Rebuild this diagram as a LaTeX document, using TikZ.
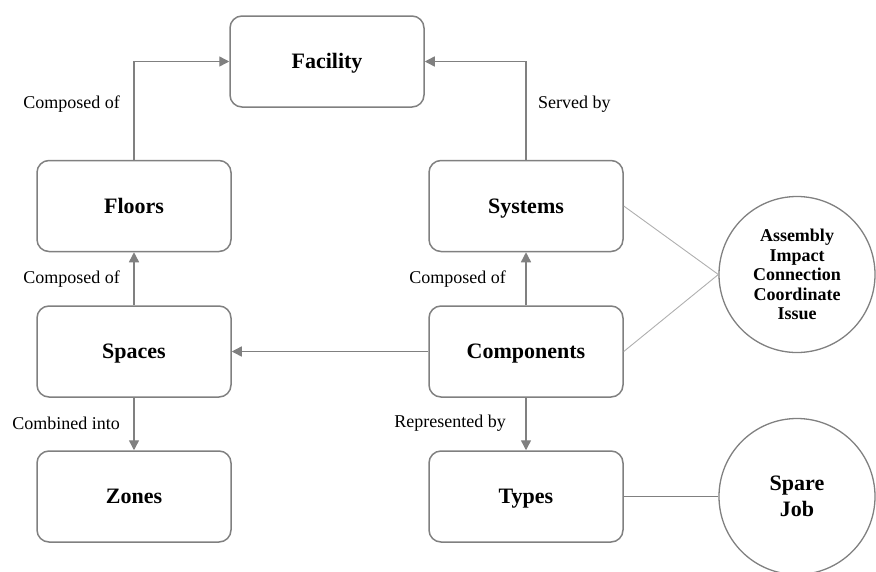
\documentclass[tikz,border=0pt]{standalone}
\usepackage{fontspec}
\setmainfont{Liberation Serif}
\usetikzlibrary{arrows.meta}
\definecolor{edgegray}{RGB}{128,128,128}
\definecolor{lightgray2}{RGB}{175,175,175}
\tikzset{
  box/.style={draw=edgegray, line width=1.5pt, rounded corners=12pt, minimum width=194pt, minimum height=91pt, inner sep=0pt, text height=14.5pt, text depth=0pt, font=\fontsize{22}{26}\selectfont\bfseries},
  circ/.style={draw=edgegray, line width=1.3pt, circle, minimum size=156pt, inner sep=0pt, align=center},
  lbl/.style={inner sep=0pt, font=\fontsize{18}{20}\selectfont},
  arr/.style={draw=edgegray, line width=1.4pt, -{Triangle[length=10pt,width=10pt]}},
  thin/.style={draw=lightgray2, line width=0.9pt},
  mid/.style={draw=edgegray, line width=1.2pt}
}
\begin{document}
\begin{tikzpicture}[x=1pt,y=-1pt]
\useasboundingbox (0,0) rectangle (876,571);
\clip (0,0) rectangle (876,571);
\node[box] (fac) at (327,61.5) {Facility};
\node[box] (flo) at (134,206) {Floors};
\node[box] (spa) at (134,351.5) {Spaces};
\node[box] (zon) at (134,496.5) {Zones};
\node[box] (sys) at (526,206) {Systems};
\node[box] (com) at (526,351.5) {Components};
\node[box] (typ) at (526,496.5) {Types};
\node[circ, font=\fontsize{18}{19.5}\selectfont\bfseries] (c1) at (797,274.5) {Assembly\\Impact\\Connection\\Coordinate\\Issue};
\node[circ, font=\fontsize{22}{26}\selectfont\bfseries] (c2) at (797,496.5) {Spare\\Job};

\draw[arr] (flo.north) |- (fac.west);
\draw[arr] (sys.north) |- (fac.east);
\draw[arr] (spa.north) -- (flo.south);
\draw[arr] (spa.south) -- (zon.north);
\draw[arr] (com.west) -- (spa.east);
\draw[arr] (com.north) -- (sys.south);
\draw[arr] (com.south) -- (typ.north);
\draw[thin] (sys.east) -- (c1.west);
\draw[thin] (com.east) -- (c1.west);
\draw[mid] (typ.east) -- (c2.west);

\node[lbl, anchor=east] (l1) at (120,104) {Composed of};
\node[lbl, anchor=east] (l2) at (120,279) {Composed of};
\node[lbl, anchor=east] (l3) at (120,423) {Combined into};
\node[lbl, anchor=west] (l4) at (538,104) {Served by};
\node[lbl, anchor=east] (l5) at (506,279) {Composed of};
\node[lbl, anchor=east] (l6) at (506,423) {Represented by};
\end{tikzpicture}
\end{document}
